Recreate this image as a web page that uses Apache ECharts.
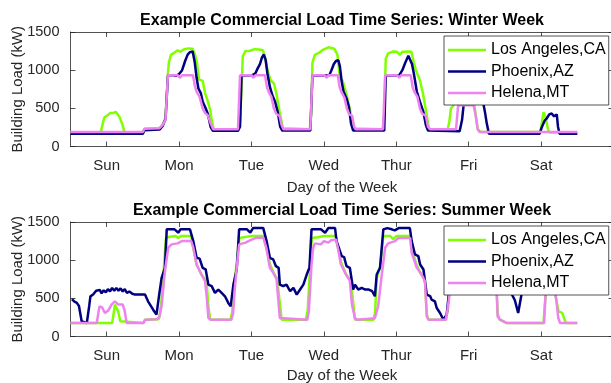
<!DOCTYPE html>
<html>
<head>
<meta charset="utf-8">
<script src="https://cdn.jsdelivr.net/npm/echarts@6/dist/echarts.min.js"></script>
<style>html,body{margin:0;padding:0;background:#fff}#c{width:611px;height:383px}</style>
</head>
<body>
<div id="c"></div>
<script>
// ---- data (hour of week, kW) ----
const dayNames = ['Sun','Mon','Tue','Wed','Thur','Fri','Sat'];
const dayTicks = [12,36,60,84,108,132,156];
const yTicks = [0,500,1000,1500];
const seriesNames = ['Los Angeles,CA','Phoenix,AZ','Helena,MT'];
const titles = ['Example Commercial Load Time Series: Winter Week','Example Commercial Load Time Series: Summer Week'];

const winterLA = [[0,185],[10,185],[10.7,300],[11.2,380],[12.3,410],[13.2,440],[14.3,440],[15,455],[16.2,390],[17.2,290],[17.9,185],[24,185],[24.5,228],[29.5,238],[30.5,285],[31.5,370],[32.2,900],[32.6,1100],[33.3,1200],[34.5,1230],[35.5,1260],[36.5,1240],[37.5,1270],[39,1285],[40.5,1280],[41.3,1200],[41.9,1100],[42.6,880],[43.8,860],[44.6,700],[45.3,620],[46.3,480],[47,300],[47.5,225],[55.5,225],[56.2,330],[56.7,750],[57.1,1180],[58,1250],[59.5,1255],[61,1275],[62.5,1270],[63.8,1260],[64.6,1150],[65.3,1000],[66.3,870],[67.5,820],[68.3,680],[69.3,460],[70.4,240],[71,222],[79.3,225],[79.8,420],[80.2,1100],[81,1200],[82.5,1230],[83.8,1270],[85.5,1300],[87.5,1280],[88.5,1200],[89.3,900],[90.2,860],[91.5,680],[92.8,450],[93.9,235],[94.5,222],[103.5,225],[104,420],[104.5,1150],[105.3,1220],[107,1245],[108.2,1240],[109.2,1200],[110,1240],[112,1245],[113,1240],[113.8,1100],[114.5,1000],[115.8,870],[116.8,700],[117.8,480],[118.8,235],[119.5,222],[125,222],[125.6,330],[126.1,500],[127,540],[128.5,650],[130,700],[132.5,700],[133.5,650],[134.3,420],[135,225],[136,190],[155.7,190],[156.2,300],[156.8,450],[157.5,380],[158.2,240],[158.7,185],[168,185]];
const winterPHX = [[0,167],[24,167],[24.5,212],[29.5,222],[30.5,265],[31.5,360],[32.3,930],[33.5,935],[35,925],[36,950],[37,1000],[38,1120],[38.8,1200],[39.5,1235],[40.5,1245],[41.2,1100],[41.8,900],[42.4,760],[43.2,700],[43.8,590],[44.8,500],[45.5,430],[46.5,250],[47.2,205],[55.5,205],[56.2,260],[56.7,930],[60.3,935],[61.3,960],[62,1020],[62.8,1080],[63.5,1170],[64.1,1205],[64.7,1130],[65.3,950],[66.1,780],[67,660],[67.8,590],[68.7,450],[69.5,260],[70.2,208],[79.5,208],[80.2,930],[85.8,935],[86.5,1000],[87.3,1080],[88,1120],[88.8,1130],[89.3,1050],[89.9,850],[90.5,720],[91.5,630],[92.3,520],[93,300],[93.7,208],[104,208],[104.5,930],[109,935],[110,1000],[111,1100],[112,1190],[112.5,1200],[113.2,1080],[113.8,960],[114.8,720],[115.8,590],[117,450],[117.8,280],[118.5,208],[129,200],[129.8,350],[130.4,575],[136.8,575],[137.4,450],[138,300],[138.7,167],[155.5,167],[156.3,260],[157.2,342],[157.9,370],[158.7,420],[159.5,432],[160.3,395],[161.2,420],[161.6,260],[162.1,167],[168,167]];
const winterHLN = [[0,190],[24,190],[24.5,233],[29.5,240],[30.5,280],[31.5,350],[32.3,934],[35.5,934],[36.3,900],[37,934],[40.6,934],[41.2,800],[41.8,715],[42.8,650],[43.8,500],[44.6,440],[45.5,408],[46.5,300],[47.3,225],[55.5,225],[56.2,934],[60,934],[60.6,900],[61.3,934],[64.5,934],[65.1,780],[65.7,715],[66.6,650],[67.4,500],[68.2,430],[69.3,400],[70,280],[70.6,225],[79.5,225],[80.2,934],[84.2,934],[84.9,900],[85.5,934],[88.6,934],[89.2,780],[89.8,715],[90.8,640],[91.6,500],[92.4,420],[93.4,400],[94,260],[94.6,225],[103.6,225],[104.3,934],[108.3,934],[109,900],[109.6,934],[112.8,934],[113.4,780],[114,715],[115,650],[115.8,500],[116.6,430],[117.8,400],[118.5,260],[119.2,225],[127.8,225],[128.5,540],[133.6,540],[134.3,410],[135,225],[135.6,190],[168,190]];

const summerLA = [[0,176],[13.8,176],[14.3,300],[14.7,417],[15.2,440],[15.8,330],[16.5,200],[17,176],[24.2,176],[24.7,220],[29.3,225],[30,400],[30.8,800],[31.6,1280],[32.5,1305],[34.8,1316],[35.7,1290],[36.6,1316],[40,1316],[40.7,1163],[41.8,943],[43.4,812],[45.1,724],[45.7,400],[46.3,220],[53,220],[53.6,320],[54.3,700],[55.2,1000],[56,1290],[58,1305],[60,1316],[63.9,1316],[65,1150],[66.1,950],[67.5,820],[68.5,760],[69.2,500],[70,220],[78,220],[78.6,330],[79.2,750],[80,1290],[82,1300],[84,1316],[87.9,1316],[88.7,1150],[89.9,950],[91.5,800],[92.8,740],[93.7,450],[94.3,220],[100.5,220],[101,330],[101.5,769],[102.6,900],[103.7,1316],[106,1316],[107,1275],[108,1316],[112.5,1316],[113.2,1150],[114.5,960],[116,830],[117.5,740],[118.1,300],[118.6,220],[124.5,220],[125.2,400],[125.8,700],[126.5,1000],[127.5,1300],[136,1316],[137,1150],[138.5,950],[140,800],[141.2,620],[141.6,300],[142.2,220],[144.6,176],[156.8,176],[157.4,500],[158.2,800],[160,800],[161.1,461],[161.8,330],[162.4,320],[163,310],[163.7,230],[164.2,176],[168,176]];
const summerPHX = [[0.5,490],[1.2,460],[2.1,440],[2.8,400],[3.7,200],[5.4,176],[6.2,400],[6.6,526],[7.5,550],[8.5,600],[9,575],[9.7,610],[10.3,565],[11,605],[11.7,580],[12.4,620],[13.1,590],[13.8,637],[14.5,600],[15.2,637],[15.9,600],[16.6,630],[17.3,590],[18,620],[18.7,570],[19.5,590],[20.5,560],[21.4,549],[24.7,549],[25.7,461],[27.4,351],[28.5,286],[29.4,549],[30.2,768],[31.3,900],[31.9,1404],[34.5,1404],[35.7,1360],[36.5,1404],[39.6,1404],[40.7,1250],[41.8,1031],[42.8,1020],[43.8,900],[44.8,880],[45.7,680],[46.8,660],[47.9,571],[49,615],[50.1,571],[51.2,527],[52.3,440],[53.1,395],[54,680],[55.1,878],[55.9,1404],[58.5,1404],[59.6,1360],[60.5,1420],[63.9,1420],[65,1250],[66.1,1031],[67.2,1010],[68.1,921],[69,900],[69.4,680],[70.5,660],[71.6,680],[72.8,593],[73.9,637],[75,549],[76.1,615],[77.2,680],[78.3,812],[79.2,900],[79.9,1404],[83,1404],[84.4,1360],[85.5,1420],[87.7,1420],[88.2,1250],[89.9,1053],[90.7,1040],[91.5,921],[92.6,900],[93.7,615],[94.3,680],[95.4,615],[96.5,637],[97.7,615],[98.9,615],[100,593],[100.9,527],[101.5,812],[102.6,900],[103.7,1404],[105,1420],[106.5,1404],[107.5,1390],[108.8,1420],[112.5,1420],[113.1,1250],[114.2,1075],[115.3,1053],[115.9,943],[117,878],[118.1,549],[119.2,530],[119.7,483],[120.8,460],[121.4,373],[122.5,308],[123.6,220],[124.7,286],[125.5,592],[126.5,900],[127.5,1400],[135,1420],[136.5,1250],[137.5,1050],[139,900],[140.5,700],[141.8,600],[142.9,580],[144,600],[145,580],[146.2,560],[147.3,475],[148.4,308],[148.9,290],[149.5,549],[150,615],[151,800],[160,800],[162,590],[163,580],[164,595],[165,575],[166,590],[167,570],[168,585]];
const summerHLN = [[0,176],[8.7,176],[9.6,395],[10.5,380],[11.4,307],[12.5,340],[13.6,417],[14.7,461],[15.8,420],[17.3,420],[18,330],[18.6,176],[24.2,176],[24.7,220],[28.5,225],[29.5,260],[30.2,400],[31.3,855],[32.4,1163],[33.5,1207],[35.5,1220],[36.9,1250],[40,1250],[40.7,1163],[41.8,943],[43.4,812],[44.6,724],[45.2,500],[45.7,242],[46.5,220],[53.3,220],[53.9,300],[54.4,600],[55.1,900],[55.9,1207],[58,1230],[59.5,1260],[61.7,1295],[63.9,1295],[64.9,1163],[66.1,900],[67.3,830],[68.3,750],[69.4,242],[70,220],[78.5,220],[79,330],[79.4,600],[79.9,943],[80.4,1150],[81,1220],[83,1207],[84,1250],[85.5,1230],[86.3,1260],[88,1270],[88.7,1150],[89.6,950],[91.2,820],[92.6,730],[93.3,417],[94.3,242],[95,220],[100.9,240],[102,400],[103.2,812],[104.3,1163],[105.3,1220],[107.6,1250],[108.7,1290],[112.6,1290],[113.1,1097],[114.8,900],[116.4,812],[117.5,724],[118.1,264],[118.7,220],[124.4,220],[124.9,330],[125.8,600],[126.5,1000],[127.5,1200],[130,1260],[136,1280],[137.5,1100],[139,900],[140.5,700],[141.3,600],[141.6,260],[142.5,220],[144.6,176],[157,176],[157.4,500],[158,700],[160.5,600],[161.1,461],[161.7,242],[162.3,176],[168,176]];

const colors = ['#80ff00','#000080','#ee82ee'];
const FONT = '"Liberation Sans", Arial, Helvetica, sans-serif';
const AX = '#262626';

const chart = echarts.init(document.getElementById('c'), null, {renderer:'canvas'});
const gridTops = [32, 222];
const nameGaps = [34, 32];
const plotH = 114.5;
const grids = gridTops.map(t => ({left:70.5, top:t, width:543, height:plotH, show:true, backgroundColor:'#fff', borderWidth:0, containLabel:false, outerBoundsMode:'none'}));

const xAxes = [], yAxes = [];
[0,1].forEach(g => {
  const tickCommon = {show:true, inside:true, length:5, customValues:dayTicks, lineStyle:{color:AX, width:0.8}};
  xAxes.push({type:'value', gridIndex:g, min:0, max:180, position:'bottom',
    axisLine:{show:true, onZero:false, lineStyle:{color:AX, width:0.8}},
    axisTick:tickCommon,
    axisLabel:{show:true, customValues:dayTicks, formatter:v => dayNames[Math.round((v-12)/24)], color:AX, fontSize:15, fontFamily:FONT, margin:11.5},
    splitLine:{show:false},
    name:'Day of the Week', nameLocation:'middle', nameGap:nameGaps[g], nameMoveOverlap:false,
    nameTextStyle:{color:AX, fontSize:15, fontFamily:FONT}});
  xAxes.push({type:'value', gridIndex:g, min:0, max:180, position:'top',
    axisLine:{show:true, onZero:false, lineStyle:{color:AX, width:0.8}},
    axisTick:tickCommon, axisLabel:{show:false}, splitLine:{show:false}});
  yAxes.push({type:'value', gridIndex:g, min:0, max:1500, interval:500, position:'left',
    axisLine:{show:true, onZero:false, lineStyle:{color:AX, width:0.8}},
    axisTick:{show:true, inside:true, length:5, lineStyle:{color:AX, width:0.8}},
    axisLabel:{color:AX, fontSize:14.5, fontFamily:FONT, margin:11, formatter:v => String(v)},
    splitLine:{show:false},
    name:'Building Load (kW)', nameLocation:'middle', nameGap:45, nameMoveOverlap:false,
    nameTextStyle:{color:AX, fontSize:15, fontFamily:FONT}});
  yAxes.push({type:'value', gridIndex:g, min:0, max:1500, interval:500, position:'right',
    axisLine:{show:true, onZero:false, lineStyle:{color:AX, width:0.8}},
    axisTick:{show:true, inside:true, length:5, lineStyle:{color:AX, width:0.8}},
    axisLabel:{show:false}, splitLine:{show:false}});
});

const allData = [[winterLA, winterPHX, winterHLN],[summerLA, summerPHX, summerHLN]];
const series = [];
allData.forEach((set, g) => {
  set.forEach((d, i) => {
    series.push({type:'line', name:seriesNames[i], xAxisIndex:g*2, yAxisIndex:g*2, data:d,
      showSymbol:false, symbol:'none', clip:true, animation:false,
      lineStyle:{color:colors[i], width:2.5}, itemStyle:{color:colors[i]}});
  });
});

const lineIcon = 'path://M0,0 L38,0 L38,2.5 L0,2.5 Z';
const legends = gridTops.map((t, g) => ({
  show:true, orient:'vertical', left:444, top:t + 4,
  data:seriesNames.map(n => ({name:n, icon:lineIcon})),
  backgroundColor:'#fff', borderColor:AX, borderWidth:0.8, borderRadius:0,
  padding:[6,3,4,4], itemWidth:38, itemHeight:2.5, itemGap:5.5,
  textStyle:{color:'#000', fontSize:16, fontFamily:FONT},
  selectedMode:false
}));

chart.setOption({
  backgroundColor:'#fff',
  animation:false,
  title: titles.map((txt, g) => ({text:txt, left:342, textAlign:'center', top:gridTops[g] - 19,
    textStyle:{fontSize:16, fontWeight:'bold', color:'#000', fontFamily:FONT}, padding:0})),
  grid: grids,
  xAxis: xAxes,
  yAxis: yAxes,
  legend: legends,
  series: series
});
</script>
</body>
</html>
